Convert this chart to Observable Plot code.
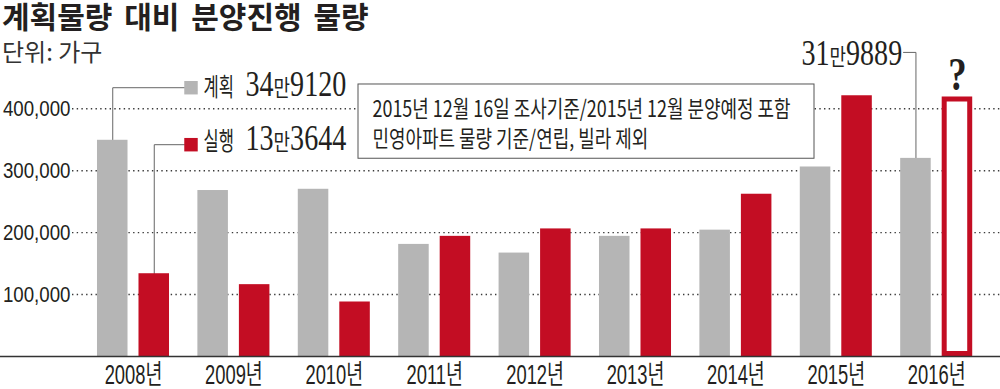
<!DOCTYPE html>
<html><head><meta charset="utf-8">
<script src="https://cdn.jsdelivr.net/npm/d3@7"></script>
<script src="https://cdn.jsdelivr.net/npm/@observablehq/plot@0.6"></script>
<style>
html,body{margin:0;padding:0;background:#fff;}
#wrap{position:relative;width:1000px;height:389px;overflow:hidden;}
#chart{position:absolute;left:0;top:0;}
#title{position:absolute;left:2px;top:0px;font-family:"Noto Sans CJK KR";font-weight:700;font-size:30px;line-height:30px;color:#231f20;word-spacing:5px;white-space:nowrap;}
#subtitle{position:absolute;left:2px;top:38px;font-family:"Noto Sans CJK KR";font-size:24px;line-height:26px;color:#333;white-space:nowrap;}
</style></head><body>
<div id="wrap"><div id="chart"></div><div id="title">계획물량 대비 분양진행 물량</div><div id="subtitle">단위: 가구</div></div>
<script>
// ---- data ----
const years = ["2008", "2009", "2010", "2011", "2012", "2013", "2014", "2015", "2016"];
const seriesNames = ["계획", "실행"];
const planned  = [349120, 268000, 270000, 181000, 167000, 194000, 204000, 306000, 319889];
const executed = [133644, 116000, 88000, 194000, 206000, 206000, 262000, 421000, null];
const unknown2016 = 419000; // outlined "?" placeholder bar for 2016 execution
const yTicks = [100000, 200000, 300000, 400000];
const noteLines = ["2015년 12월 16일 조사기준/2015년 12월 분양예정 포함", "민영아파트 물량 기준/연립, 빌라 제외"];

// ---- style / layout ----
const GRAY = "#b5b5b5", RED = "#c30d23", INK = "#231f20";
const SANS = "Noto Sans CJK KR", NUM = "Liberation Sans, Noto Sans CJK KR", SERIF = "Liberation Serif, DejaVu Serif";
const step = 100.4, firstCenter = 133;           // px per year group, px of first group centre
const px = p => (p - firstCenter) / step;       // px -> x data (group index)
const off = 0.2067, half = 0.152;               // bar offset & half width inside a group
const seriesOffset = {"계획": -off, "실행": off};

const manFormat = v => `${Math.floor(v / 10000)}만${String(v % 10000).padStart(4, "0")}`;

const bars = years.flatMap((year, i) => [
  {i, year, series: "계획", value: planned[i]},
  ...(executed[i] != null ? [{i, year, series: "실행", value: executed[i]}] : [])
]);

const legendRows = [
  {series: "계획", i: 0, value: planned[0], lineY: 434000, textY: 420000},
  {series: "실행", i: 0, value: executed[0], lineY: 342000, textY: 333000}
];
const leaders = [
  ...legendRows.flatMap(d => [
    {id: d.series, x: d.i + seriesOffset[d.series], y: d.value},
    {id: d.series, x: d.i + seriesOffset[d.series], y: d.lineY},
    {id: d.series, x: px(184), y: d.lineY}
  ]),
  {id: "2016", x: 8 - off, y: planned[8]},
  {id: "2016", x: 8 - off, y: 491000},
  {id: "2016", x: px(903), y: 491000}
];
const tag = name => () => name; // per-element aria-label, used to find texts for typographic tweaks

const chart = Plot.plot({
  width: 1000, height: 389,
  marginLeft: 72, marginRight: 0, marginTop: 77.3, marginBottom: 33,
  x: {domain: [px(72), px(1000)], axis: null},
  y: {domain: [0, 450000], axis: null},
  color: {domain: seriesNames, range: [GRAY, RED]},
  style: {background: "transparent", overflow: "visible"},
  marks: [
    Plot.ruleY(yTicks, {stroke: "#3a3a3a", strokeWidth: 1.4, strokeDasharray: "1.4,3.3"}),
    Plot.rect([{}], {x1: px(358), x2: px(814), y1: 319300, y2: 439200, fill: "white", stroke: "#555", strokeWidth: 1}),
    Plot.text(noteLines, {x: px(372), y: (d, i) => [386400, 337500][i], text: d => d, textAnchor: "start", lineAnchor: "bottom",
      fontSize: 23, fontFamily: SANS, fill: INK, ariaLabel: tag("note")}),
    Plot.line(leaders, {x: "x", y: "y", z: "id", stroke: "#666", strokeWidth: 1}),
    Plot.rect(bars, {x1: d => d.i + seriesOffset[d.series] - half, x2: d => d.i + seriesOffset[d.series] + half,
      y1: 0, y2: "value", fill: "series"}),
    Plot.rect([{i: 8, value: unknown2016}], {x1: d => d.i + off - half, x2: d => d.i + off + half, y1: 0, y2: "value",
      fill: "white", stroke: RED, strokeWidth: 5, inset: 2.5}),
    Plot.ruleY([0], {x1: px(0), x2: px(1000), stroke: "#333", strokeWidth: 1.3}),
    Plot.dot(legendRows, {x: px(190.5), y: "lineY", symbol: "square", r: 7.6, fill: "series"}),
    Plot.text(legendRows, {x: px(203), y: "textY", text: "series", textAnchor: "start", lineAnchor: "bottom",
      fontSize: 25, fontFamily: SANS, fill: INK, ariaLabel: tag("legend")}),
    Plot.text(legendRows, {x: px(245), y: "textY", text: d => manFormat(d.value), textAnchor: "start", lineAnchor: "bottom",
      fontSize: 36, fontFamily: SERIF, fill: INK, ariaLabel: tag("amount")}),
    Plot.text([planned[8]], {x: px(901.7), y: 469900, text: d => manFormat(d), textAnchor: "end", lineAnchor: "bottom",
      fontSize: 36, fontFamily: SERIF, fill: INK, ariaLabel: tag("amount")}),
    Plot.text(["?"], {x: 8 + off, y: unknown2016, dy: -7, text: d => d, textAnchor: "middle", lineAnchor: "bottom",
      fontSize: 46, fontWeight: "bold", fontFamily: SERIF, fill: INK, ariaLabel: tag("question")}),
    Plot.axisY(yTicks, {tickSize: 0, tickPadding: 2, tickFormat: d3.format(","), fontSize: 22, fontFamily: NUM, fill: INK, label: null}),
    Plot.axisX(d3.range(years.length), {tickFormat: i => years[i] + "년", tickSize: 0, tickPadding: 8, fontSize: 27,
      fontFamily: NUM, fill: INK, label: null})
  ]
});
document.getElementById("chart").appendChild(chart);

// ---- typographic post-processing (condensed type as in the original) ----
const svgNS = "http://www.w3.org/2000/svg";
chart.querySelectorAll('text[aria-label="amount"]').forEach(t => {
  const s = t.textContent; t.textContent = "";
  for (const m of s.matchAll(/[0-9]+|[^0-9]+/g)) {
    const ts = document.createElementNS(svgNS, "tspan");
    ts.textContent = m[0];
    if (!/[0-9]/.test(m[0])) { ts.setAttribute("font-family", SANS); ts.setAttribute("font-size", "23"); }
    t.appendChild(ts);
  }
});
function condense(selector, factor) {
  chart.querySelectorAll(selector).forEach(t => {
    const w = t.getComputedTextLength();
    t.setAttribute("textLength", (w * factor).toFixed(1));
    t.setAttribute("lengthAdjust", "spacingAndGlyphs");
  });
}
condense('g[aria-label="y-axis tick label"] text', 0.85);
condense('g[aria-label="x-axis tick label"] text', 0.68);
condense('text[aria-label="legend"]', 0.66);
condense('text[aria-label="note"]', 0.78);
condense('text[aria-label="amount"]', 0.78);
condense('text[aria-label="question"]', 0.8);
</script>
</body></html>
